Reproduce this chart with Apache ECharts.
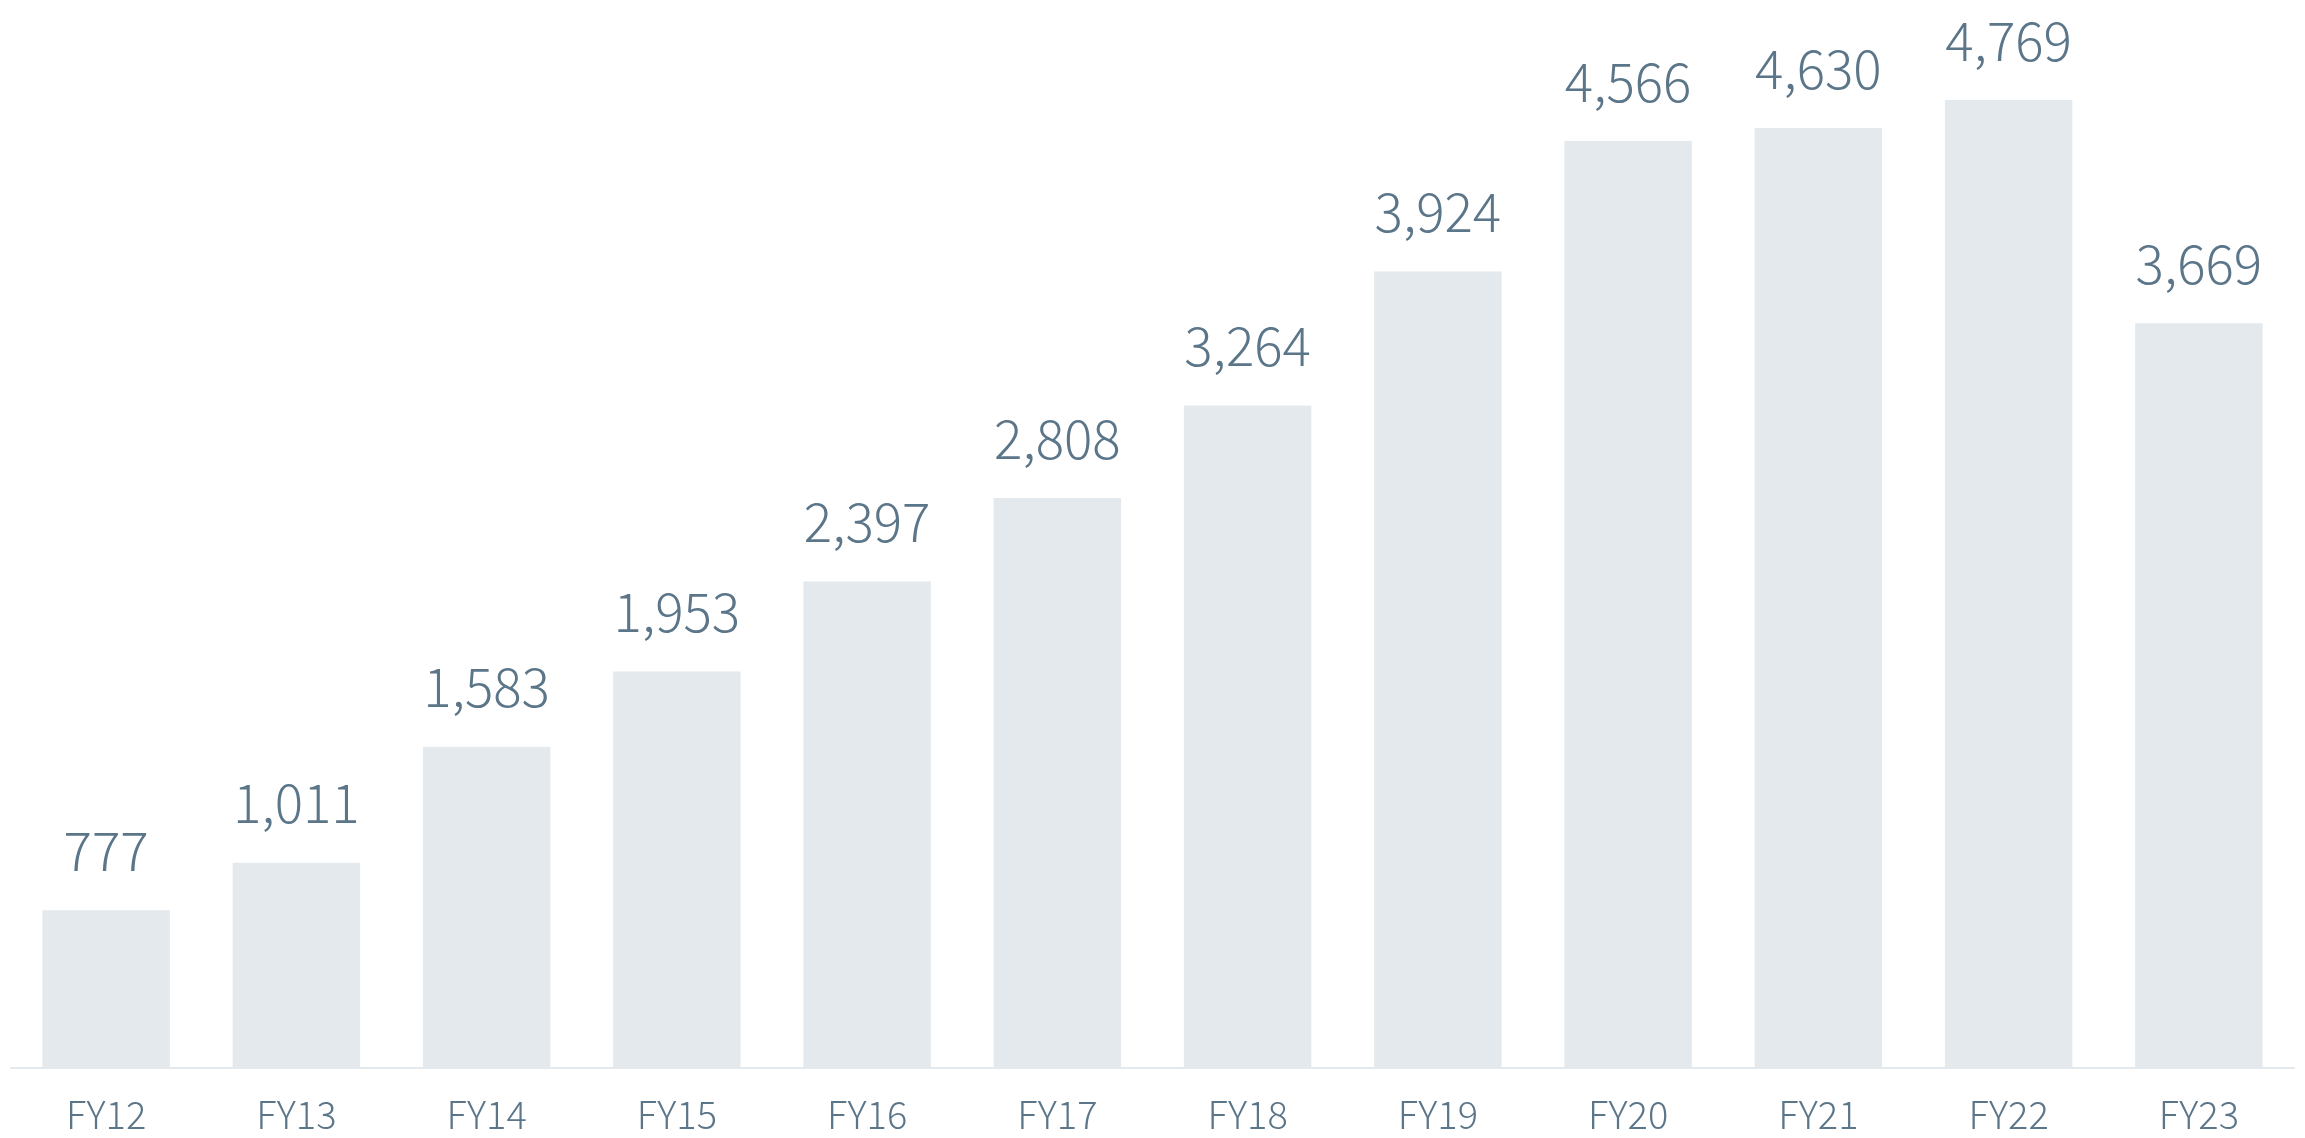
<!DOCTYPE html>
<html>
<head>
<meta charset="utf-8">
<script src="https://cdn.jsdelivr.net/npm/echarts@6/dist/echarts.min.js"></script>
<style>
  html, body { margin: 0; padding: 0; background: #fff; }
  #chart { width: 2305px; height: 1138px; }
</style>
</head>
<body>
<div id="chart"></div>
<script>
// 年度データ
const categories = ['FY12', 'FY13', 'FY14', 'FY15', 'FY16', 'FY17', 'FY18', 'FY19', 'FY20', 'FY21', 'FY22', 'FY23']
const values = [777, 1011, 1583, 1953, 2397, 2808, 3264, 3924, 4566, 4630, 4769, 3669]

const textColor = '#5b7589'
const barColor = '#e4e9ed'

const chart = echarts.init(document.getElementById('chart'))

const option = {
  animation: false,
  grid: {
    left: 11,
    right: 11,
    top: 53,
    bottom: 70
  },
  xAxis: {
    type: 'category',
    data: categories,
    axisLine: { lineStyle: { color: '#e4e9ed', width: 2 } },
    axisTick: { show: false },
    axisLabel: {
      color: textColor,
      fontSize: 38,
      fontFamily: 'Noto Sans CJK JP',
      fontWeight: 300,
      margin: 28
    }
  },
  yAxis: {
    type: 'value',
    min: 0,
    max: 5000,
    show: false,
    splitLine: { show: false }
  },
  series: [{
    type: 'bar',
    data: values,
    barCategoryGap: '33%',
    itemStyle: { color: barColor },
    label: {
      show: true,
      position: 'top',
      distance: 33,
      color: textColor,
      fontSize: 53,
      fontFamily: 'Noto Sans CJK JP',
      fontWeight: 300,
      formatter: (p) => p.value.toLocaleString('en-US')
    }
  }]
}

chart.setOption(option)
</script>
</body>
</html>
